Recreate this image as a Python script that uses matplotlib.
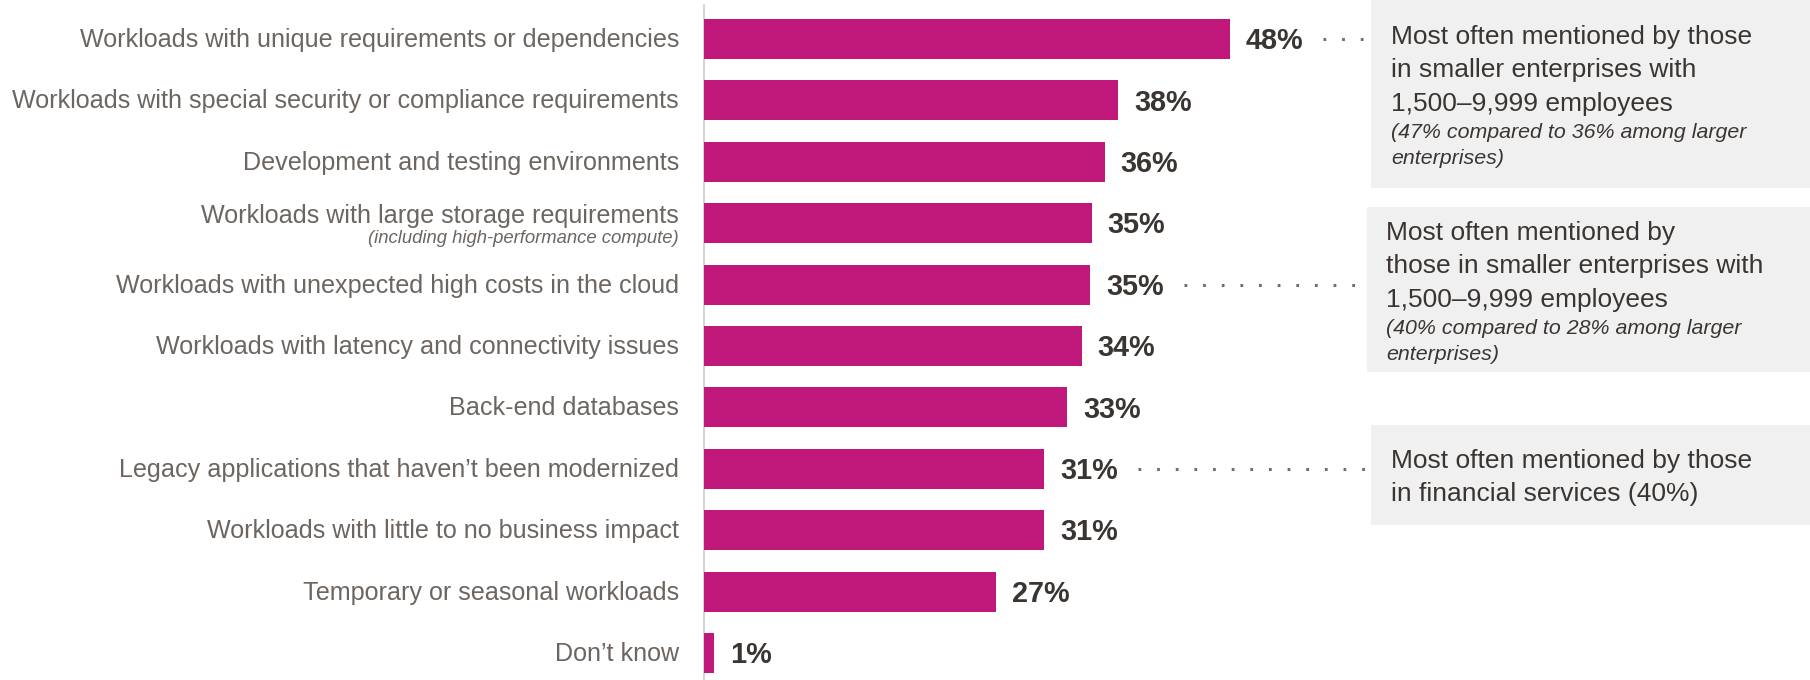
"""Horizontal bar chart: workloads kept on-premises, with callout boxes."""

import matplotlib
matplotlib.use("Agg")
import matplotlib.pyplot as plt
from matplotlib.patches import Rectangle

categories = [
    "Workloads with unique requirements or dependencies",
    "Workloads with special security or compliance requirements",
    "Development and testing environments",
    "Workloads with large storage requirements",
    "Workloads with unexpected high costs in the cloud",
    "Workloads with latency and connectivity issues",
    "Back-end databases",
    "Legacy applications that haven\u2019t been modernized",
    "Workloads with little to no business impact",
    "Temporary or seasonal workloads",
    "Don\u2019t know",
]
sublabels = {3: "(including high-performance compute)"}
# bar lengths as drawn (labels show them rounded)
values = [47.9, 37.7, 36.5, 35.3, 35.2, 34.4, 33.1, 31.0, 31.0, 26.6, 0.9]

# callouts: which bar they point at, plain lines, italic lines
note_rows = [0, 4, 7]
note_lines = [
    ["Most often mentioned by those", "in smaller enterprises with",
     "1,500\u20139,999 employees"],
    ["Most often mentioned by", "those in smaller enterprises with",
     "1,500\u20139,999 employees"],
    ["Most often mentioned by those", "in financial services (40%)"],
]
note_italic = [
    ["(47% compared to 36% among larger", "enterprises)"],
    ["(40% compared to 28% among larger", "enterprises)"],
    [],
]

BAR = "#C0177A"
LABEL = "#6c6560"
DARK = "#3b3531"
BOXFILL = "#f0f0f0"

W, H = 1810, 680
X0 = 704            # pixel of the zero line
PX_PER_PCT = 10.98
ROW0, ROWSTEP = 39, 61.4

plt.rcParams["font.family"] = ["Liberation Sans", "DejaVu Sans"]

fig = plt.figure(figsize=(W / 100, H / 100), dpi=100)
ax = fig.add_axes([X0 / W, 0, (W - X0) / W, 1])
ax.patch.set_visible(False)
ax.set_xlim(0, (W - X0) / PX_PER_PCT)
ax.set_ylim((H - ROW0) / ROWSTEP, -ROW0 / ROWSTEP)

rows = list(range(len(categories)))
ax.barh(rows, values, height=0.65, color=BAR, zorder=3)

for s in ["top", "right", "bottom"]:
    ax.spines[s].set_visible(False)
ax.spines["left"].set_color("#cdc5c6")
ax.spines["left"].set_linewidth(1.1)
ax.spines["left"].set_bounds((5 - ROW0) / ROWSTEP, (H - ROW0) / ROWSTEP)
ax.set_xticks([])
ax.set_yticks([])

for i, (cat, v) in enumerate(zip(categories, values)):
    if i in sublabels:
        ax.annotate(cat, xy=(0, i), xytext=(-18, 0), textcoords="offset points",
                    ha="right", va="baseline", fontsize=18.1, color=LABEL)
        ax.annotate(sublabels[i], xy=(0, i), xytext=(-18, -14.4),
                    textcoords="offset points", ha="right", va="baseline",
                    fontsize=13.3, style="italic", color=LABEL)
    else:
        ax.annotate(cat, xy=(0, i), xytext=(-18, -5.8), textcoords="offset points",
                    ha="right", va="baseline", fontsize=18.1, color=LABEL)
    ax.annotate(f"{round(v)}%", xy=(v, i), xytext=(11.5, -7.3),
                textcoords="offset points", ha="left", va="baseline",
                fontsize=20.8, fontweight="bold", color=DARK)

# callout boxes (pixel layout: left, top, bottom, text x, first baseline)
boxes = [(1371, -10, 188, 1391, 44), (1367, 207, 372, 1386, 240),
         (1371, 425, 525, 1391, 468)]
for row, lines, ital, (bx, top, bot, tx, base) in zip(note_rows, note_lines,
                                                      note_italic, boxes):
    fig.add_artist(Rectangle((bx / W, 1 - bot / H), (W - bx) / W, (bot - top) / H,
                             transform=fig.transFigure, facecolor=BOXFILL,
                             edgecolor="none", zorder=-1))
    y = base
    for ln in lines:
        fig.text(tx / W, 1 - y / H, ln, fontsize=19, color=DARK,
                 ha="left", va="baseline", zorder=5)
        y += 33.5
    y -= 6.5
    for ln in ital:
        fig.text(tx / W, 1 - y / H, ln, fontsize=15.4, style="italic", color=DARK,
                 ha="left", va="baseline", zorder=5)
        y += 25.5
    # dotted leader from the value label to the box
    v = values[row]
    ax.plot([v + 8.5, (bx - 6 - X0) / PX_PER_PCT], [row, row], color="#6e6e6e",
            linewidth=2.2, linestyle=(0, (0.9, 5.2)), dash_capstyle="butt",
            solid_capstyle="butt")

fig.savefig("out.png", dpi=100)
